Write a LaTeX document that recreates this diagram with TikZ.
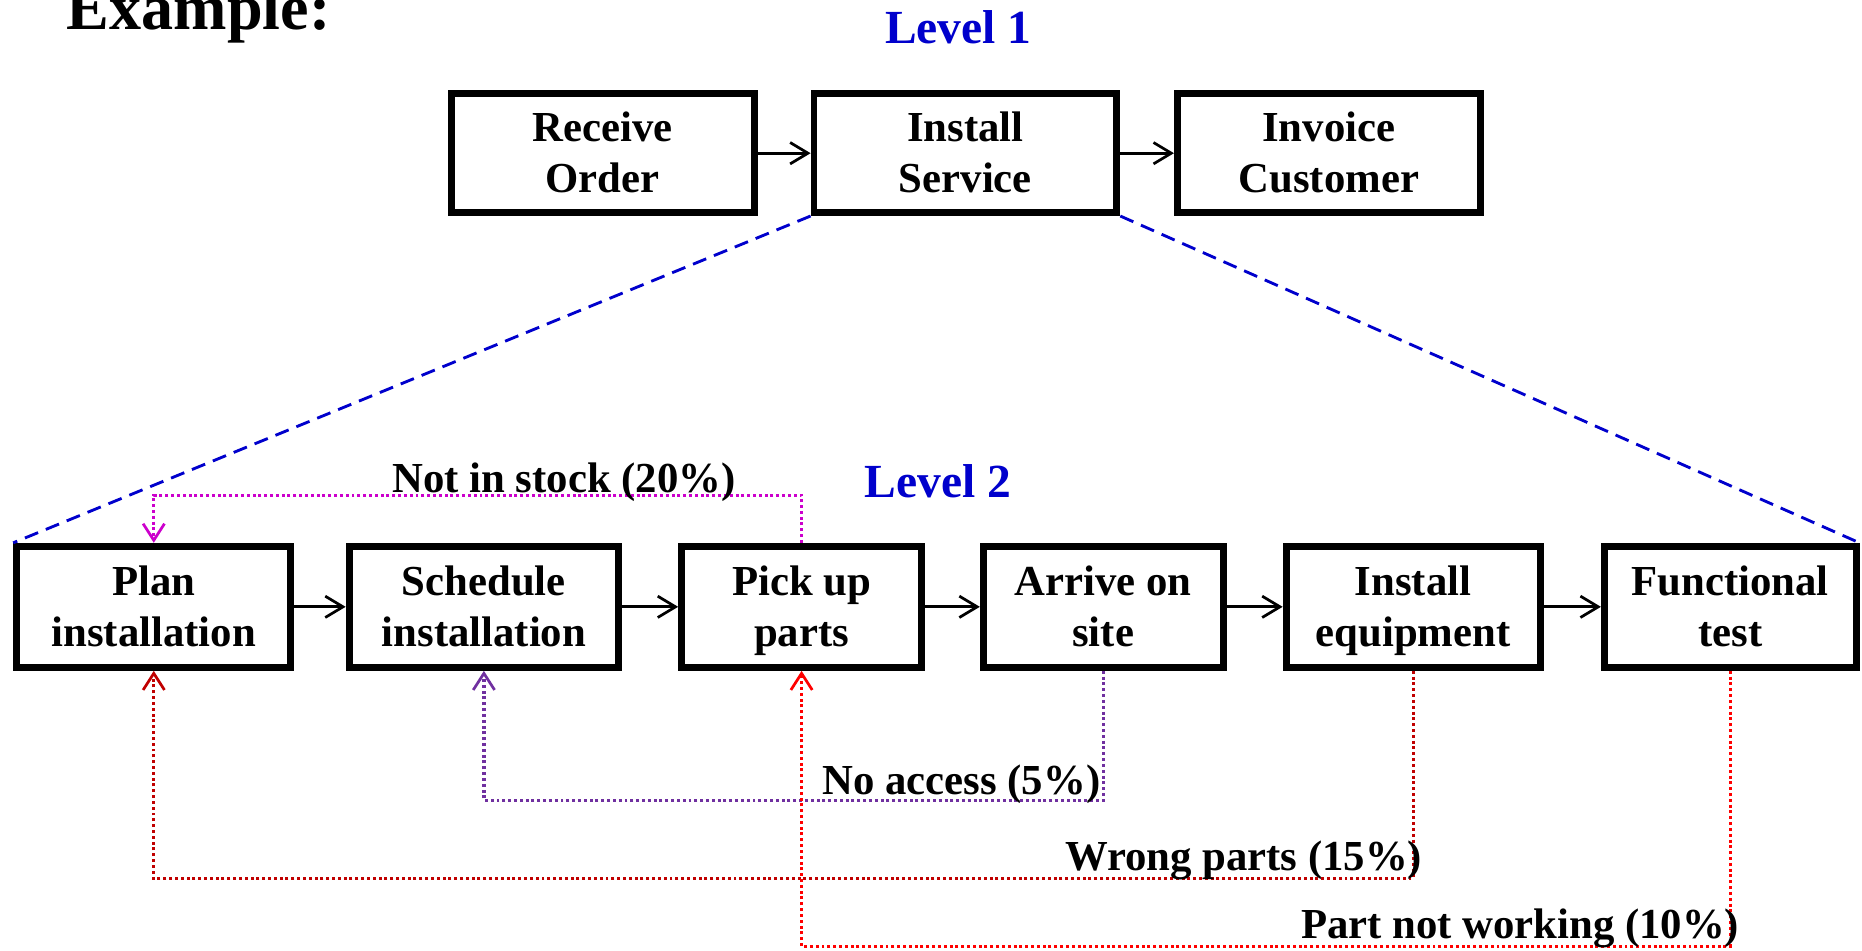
\documentclass[tikz,border=0pt]{standalone}
\usepackage{fontspec}
\setmainfont{Liberation Serif}
\usetikzlibrary{arrows.meta}
\definecolor{lvlblue}{RGB}{0,0,204}
\definecolor{stockmag}{RGB}{204,0,204}
\definecolor{accpurple}{RGB}{112,48,160}
\definecolor{wrongred}{RGB}{192,0,0}
\definecolor{partred}{RGB}{255,0,0}
% two centred lines whose block is measured from cap height to last baseline
\newcommand{\boxlines}[2]{\rule{0pt}{12pt}\smash{#1}\\\smash{#2}}
\tikzset{
  procbox/.style={draw, line width=2.9pt, fill=white, align=center, inner sep=0pt,
    font=\fontsize{18}{21.5}\selectfont\bfseries},
  flow/.style={line width=1.15pt, -{Straight Barb[length=7.5pt,width=9pt,line width=1.15pt]}},
  zoomline/.style={draw=lvlblue, line width=1.2pt, dash pattern=on 6pt off 3.5pt},
  fb/.style={draw=#1, line width=1.35pt, dash pattern=on 1.25pt off 1.2pt,
    -{Straight Barb[length=7pt,width=9pt,line width=1.15pt,#1]}},
  lbl/.style={font=\fontsize{18}{21.5}\selectfont\bfseries, inner sep=0pt, anchor=base},
  lvl/.style={font=\fontsize{20}{24}\selectfont\bfseries, text=lvlblue, inner sep=0pt, anchor=base}
}
\begin{document}
\begin{tikzpicture}[x=0.5pt, y=-0.5pt]
\useasboundingbox (0,0) rectangle (1568,800);

% title and level captions
\node[font=\fontsize{27}{32}\selectfont\bfseries, inner sep=0pt, anchor=base west] (title) at (56,25) {Example:};
\node[lvl] (lvlone) at (807,37) {Level 1};
\node[lvl] (lvltwo) at (790,419) {Level 2};

% level 1 process
\node[procbox, minimum width=127.5pt, minimum height=50pt] (recv) at (507.5,129) {\boxlines{Receive}{Order}};
\node[procbox, minimum width=127.5pt, minimum height=50pt] (inst) at (813,129) {\boxlines{Install}{Service}};
\node[procbox, minimum width=127.5pt, minimum height=50pt] (invc) at (1119,129) {\boxlines{Invoice}{Customer}};
\draw[flow] (recv) -- (inst);
\draw[flow] (inst) -- (invc);

% level 2 process
\node[procbox, minimum width=115.5pt, minimum height=51pt] (plan) at (129.5,511) {\boxlines{Plan}{installation}};
\node[procbox, minimum width=113.5pt, minimum height=51pt] (sched) at (407.5,511) {\boxlines{Schedule}{installation}};
\node[procbox, minimum width=101pt, minimum height=51pt] (pick) at (675,511) {\boxlines{Pick up}{parts}};
\node[procbox, minimum width=101pt, minimum height=51pt] (arrive) at (929,511) {\boxlines{Arrive on}{site}};
\node[procbox, minimum width=107pt, minimum height=51pt] (insteq) at (1190,511) {\boxlines{Install}{equipment}};
\node[procbox, minimum width=106pt, minimum height=51pt] (ftest) at (1457,511) {\boxlines{Functional}{test}};
\draw[flow] (plan) -- (sched);
\draw[flow] (sched) -- (pick);
\draw[flow] (pick) -- (arrive);
\draw[flow] (arrive) -- (insteq);
\draw[flow] (insteq) -- (ftest);

% drill-down of Install Service
\draw[zoomline] (inst.south west) -- (plan.north west);
\draw[zoomline] (inst.south east) -- (ftest.north east);

% rework loops
\draw[fb=stockmag] (pick.north) -- ++(0,-40) -| (plan.north);
\node[lbl] (stock) at (475,415) {Not in stock (20\%)};

\draw[fb=accpurple] (arrive.south) -- ++(0,109) -| (sched.south);
\node[lbl, anchor=base east] (access) at (927,669) {No access (5\%)};

\draw[fb=wrongred] (insteq.south) -- ++(0,175) -| (plan.south);
\node[lbl, anchor=base east] (wrong) at (1198,733) {Wrong parts (15\%)};

\draw[fb=partred] (ftest.south) -- ++(0,232) -| (pick.south);
\node[lbl, anchor=base east] (notwork) at (1465,790) {Part not working (10\%)};
\end{tikzpicture}
\end{document}
